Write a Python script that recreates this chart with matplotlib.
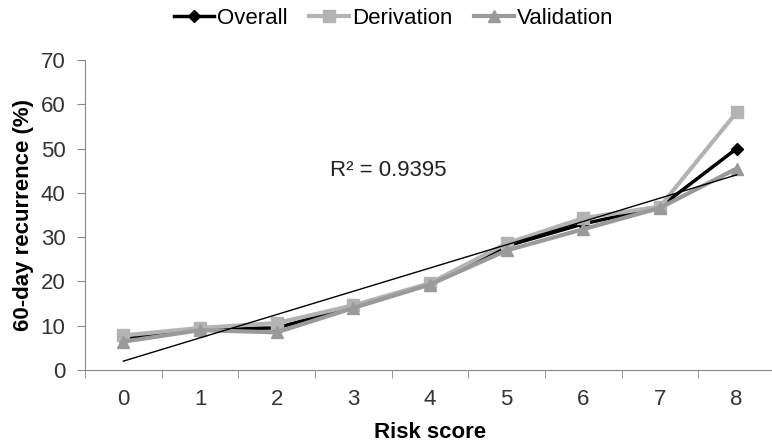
import numpy as np
import matplotlib.pyplot as plt

plt.rcParams['font.family'] = ['Liberation Sans', 'DejaVu Sans']

# Chart values
risk_score = [0, 1, 2, 3, 4, 5, 6, 7, 8]
overall = [7.0, 9.2, 9.5, 14.3, 19.5, 28.0, 33.0, 36.8, 50.0]
derivation = [7.8, 9.5, 10.6, 14.6, 19.6, 28.6, 34.3, 36.9, 58.2]
validation = [6.4, 9.0, 8.5, 14.0, 19.3, 27.0, 31.8, 36.6, 45.5]
r2_label = "R² = 0.9395"

fig = plt.figure(figsize=(7.72, 4.45), dpi=100)
ax = fig.add_axes([85 / 772, 75 / 445, 690 / 772, 310 / 445])

# Series lines
ax.plot(risk_score, overall, color='black', lw=2.5, marker='D', ms=6,
        label='Overall', zorder=2)
ax.plot(risk_score, derivation, color='#b3b3b3', lw=3, marker='s', ms=9,
        label='Derivation', zorder=3)
ax.plot(risk_score, validation, color='#9a9a9a', lw=3, marker='^', ms=9,
        label='Validation', zorder=4)

# Linear trend line of the overall series
slope, intercept = np.polyfit(risk_score, overall, 1)
ends = np.array([risk_score[0], risk_score[-1]])
ax.plot(ends, slope * ends + intercept, color='black', lw=1, zorder=5)
ax.text(3.46, 45.0, r2_label, fontsize=16, ha='center', va='center',
        color='#222222')

# Axes styling
ax.set_xlim(-0.5, 8.5)
ax.set_ylim(0, 70)
ax.set_yticks(range(0, 71, 10))
ax.set_xticks(risk_score)
ax.set_xticks(np.arange(-0.5, 9, 1), minor=True)
ax.tick_params(axis='x', which='major', length=0, pad=14, labelsize=16,
               colors='#333333')
ax.tick_params(axis='x', which='minor', length=6, color='#888888')
ax.tick_params(axis='y', length=6, pad=8, labelsize=16, colors='#333333')
ax.tick_params(axis='y', color='#888888')
for side in ['top', 'right']:
    ax.spines[side].set_visible(False)
for side in ['left', 'bottom']:
    ax.spines[side].set_color('#888888')

ax.set_xlabel("Risk score", fontsize=16, fontweight='bold', labelpad=8)
ax.set_ylabel("60-day recurrence (%)", fontsize=16, fontweight='bold',
              labelpad=5)

# Legend across the top
fig.legend(loc='center', bbox_to_anchor=(0.51, 0.958), ncol=3,
           frameon=False, fontsize=16, handlelength=1.8, handletextpad=0.1,
           columnspacing=1.0)

fig.savefig("out.png", dpi=100)
